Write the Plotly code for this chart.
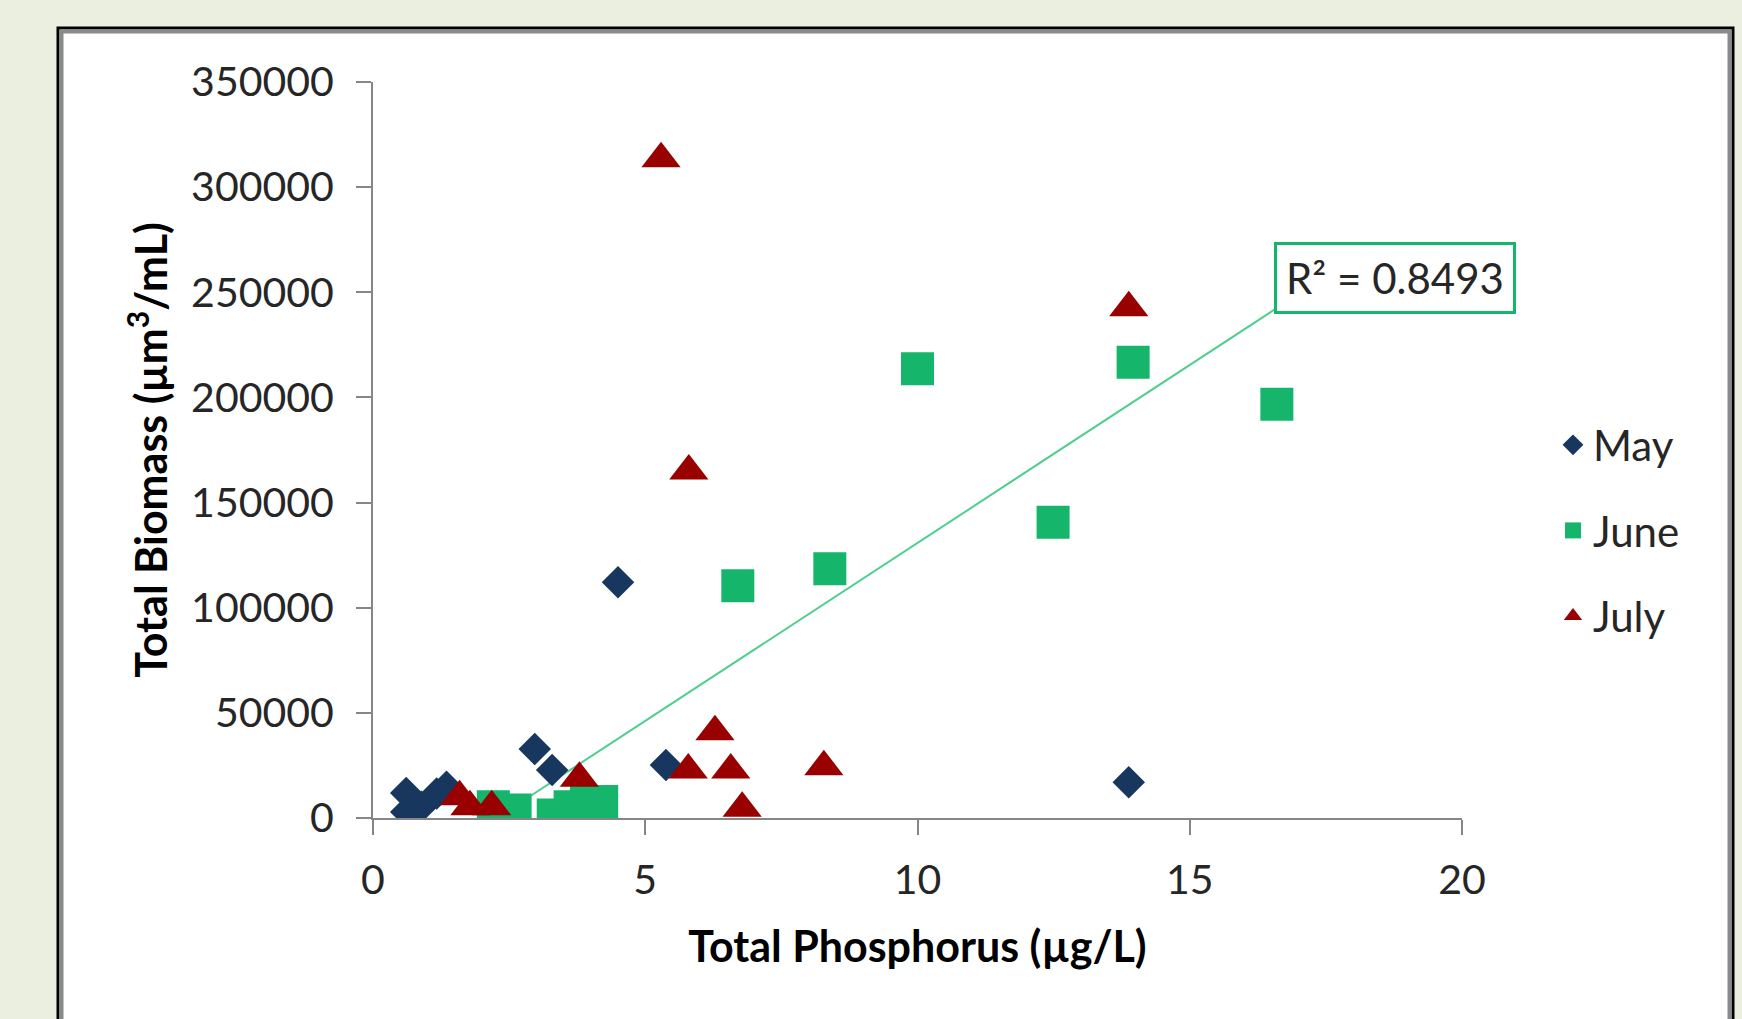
import numpy as np
import plotly.graph_objects as go

# ---- data ----
may_x = [0.61, 0.61, 0.89, 1.17, 1.35, 2.97, 3.29, 4.50, 5.38, 13.88]
may_y = [11900, 2900, 5400, 11700, 14900, 32800, 22800, 112100, 25200, 17000]

june_x = [2.21, 2.61, 3.31, 3.62, 3.92, 4.20, 6.70, 8.39, 10.00, 12.49, 13.96, 16.60]
june_y = [5400, 3800, 1400, 5400, 7800, 7800, 110500, 118500, 213600, 140600, 216700, 196700]

july_x = [1.59, 1.78, 2.18, 3.79, 5.29, 5.79, 5.80, 6.28, 6.57, 6.78, 8.28, 13.88]
july_y = [10100, 5400, 5400, 18900, 313500, 22800, 165000, 41000, 22800, 4600, 24400, 242600]

x_ticks = [0, 5, 10, 15, 20]
y_ticks = [0, 50000, 100000, 150000, 200000, 250000, 300000, 350000]
r2_label = "R² = 0.8493"
x_title = "Total Phosphorus (µg/L)"
y_title = "Total Biomass (µm<sup>3</sup>/mL)"

# ---- styles ----
W, H = 1742, 1019
L, R, T, B = 373, 280, 82, 201
FONT = "Lato"
BG = "#EBEFDF"
C_MAY, C_JUNE, C_JULY = "#17375E", "#15B56C", "#990000"
C_TREND = "#4ECF8E"
AX = "#868686"
TXT = "#262626"

# linear trend for June
slope, intercept = np.polyfit(june_x, june_y, 1)
tx = np.array([min(june_x), max(june_x)])
ty = slope * tx + intercept

fig = go.Figure()
fig.add_trace(go.Scatter(x=tx, y=ty, mode="lines", showlegend=False,
                         line=dict(color=C_TREND, width=2), hoverinfo="skip"))
fig.add_trace(go.Scatter(x=may_x, y=may_y, mode="markers", name="May", legendgroup="a",
                         marker=dict(symbol="diamond", size=25, color=C_MAY)))
fig.add_trace(go.Scatter(x=june_x, y=june_y, mode="markers", name="June", legendgroup="b",
                         marker=dict(symbol="square", size=33, color=C_JUNE)))
fig.add_trace(go.Scatter(x=july_x, y=july_y, mode="markers", name="July", legendgroup="c",
                         marker=dict(symbol="triangle-up", size=34, color=C_JULY)))

pw, ph = W - L - R, H - T - B
def px2paper_x(px):
    return (px - L) / pw
def px2paper_y(py):
    return (H - B - py) / ph

shapes = [
    dict(type="rect", xref="paper", yref="paper", layer="below",
         x0=px2paper_x(58), x1=px2paper_x(1733), y0=px2paper_y(1060), y1=px2paper_y(28),
         fillcolor="white", line=dict(color="black", width=3)),
    dict(type="rect", xref="paper", yref="paper", layer="below",
         x0=px2paper_x(61.5), x1=px2paper_x(1729.5), y0=px2paper_y(1060), y1=px2paper_y(31.5),
         fillcolor="rgba(0,0,0,0)", line=dict(color="#8A8A8A", width=4)),
]

fig.add_annotation(x=tx[1], y=ty[1], xref="x", yref="y", xanchor="left", yanchor="bottom",
                   text=r2_label, showarrow=False, width=226, height=56,
                   xshift=-3, yshift=-6,
                   font=dict(family=FONT, size=42, color=TXT),
                   bordercolor=C_JUNE, borderwidth=3, borderpad=5, bgcolor="white")

fig.update_layout(
    width=W, height=H,
    margin=dict(l=L, r=R, t=T, b=B, autoexpand=False),
    paper_bgcolor=BG, plot_bgcolor="rgba(0,0,0,0)",
    shapes=shapes,
    font=dict(family=FONT, size=41, color=TXT),
    showlegend=True,
    legend=dict(x=px2paper_x(1553), y=px2paper_y(411), xanchor="left", yanchor="top",
                bgcolor="rgba(0,0,0,0)", font=dict(family=FONT, size=42, color=TXT),
                tracegroupgap=28, traceorder="grouped"),
    xaxis=dict(range=[0, 20], tickvals=x_ticks, ticktext=[str(v) for v in x_ticks],
               showgrid=False, zeroline=False, showline=True, linecolor=AX, linewidth=2,
               ticks="outside", ticklen=15, tickwidth=2, tickcolor=AX,
               ticklabelstandoff=10,
               tickfont=dict(family=FONT, size=41, color=TXT),
               title=dict(text="<b>" + x_title + "</b>", standoff=30,
                          font=dict(family=FONT, size=43, color="black"))),
    yaxis=dict(range=[0, 350000], tickvals=y_ticks, ticktext=[str(v) for v in y_ticks],
               showgrid=False, zeroline=False, showline=True, linecolor=AX, linewidth=2,
               ticks="outside", ticklen=15, tickwidth=2, tickcolor=AX,
               ticklabelstandoff=14,
               tickfont=dict(family=FONT, size=41, color=TXT),
               title=dict(text="<b>" + y_title + "</b>", standoff=10,
                          font=dict(family=FONT, size=43, color="black"))),
)

fig.write_html("out.html", config={"displayModeBar": False},
               post_script="document.body.style.margin='0';document.body.style.background='%s';" % BG)
